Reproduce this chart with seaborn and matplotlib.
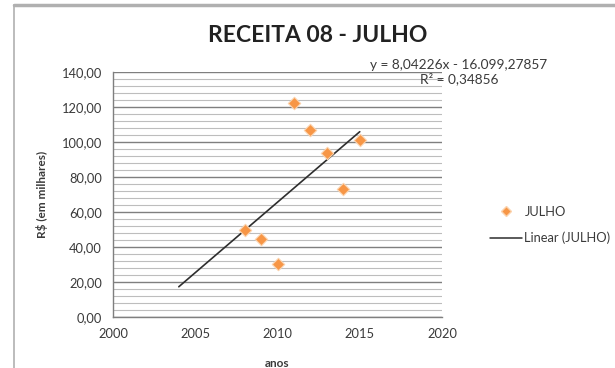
import numpy as np
import pandas as pd
import seaborn as sns
import matplotlib
matplotlib.use("Agg")
import matplotlib.pyplot as plt
from matplotlib.ticker import MultipleLocator, FuncFormatter, FixedLocator
from matplotlib.lines import Line2D

# ---- data ----
years = [2008, 2009, 2010, 2011, 2012, 2013, 2014, 2015]
values = [49.5, 44.5, 30.5, 122.5, 107.0, 93.5, 73.0, 101.0]
trend_years = [2004, 2015]
x_ticks = [2000, 2005, 2010, 2015, 2020]
y_ticks = [0, 20, 40, 60, 80, 100, 120, 140]
title = "RECEITA 08 - JULHO"
eq_text = "y = 8,04226x - 16.099,27857\nR² = 0,34856"
series_name = "JULHO"
trend_name = "Linear (JULHO)"
x_label = "anos"
y_label = "R$ (em milhares)"

sns.set_theme(style="white")
plt.rcParams['font.family'] = ['Lato', 'DejaVu Sans']

W, H = 615, 368
fig = plt.figure(figsize=(W / 100, H / 100), dpi=100)
ax = fig.add_axes([113 / W, 1 - 317 / H, (442 - 113) / W, (317 - 72) / H])

df = pd.DataFrame({"ano": years, "valor": values})
coef = np.polyfit(df["ano"], df["valor"], 1)
tdf = pd.DataFrame({"ano": trend_years, "valor": np.polyval(coef, trend_years)})

orange = "#F79646"
txt = "#3a3a3a"
sns.lineplot(data=tdf, x="ano", y="valor", ax=ax, color="#2e2e2e", lw=1.2, zorder=3)
sns.scatterplot(data=df, x="ano", y="valor", ax=ax, marker="D", s=40,
                color=orange, edgecolor="#fbd3ae", linewidth=0.8, zorder=4)

ax.set_xlim(2000, 2020)
ax.set_ylim(0, 140)
ax.xaxis.set_major_locator(FixedLocator(x_ticks))
ax.yaxis.set_major_locator(FixedLocator(y_ticks))
ax.yaxis.set_minor_locator(MultipleLocator(4))
ax.yaxis.set_major_formatter(FuncFormatter(lambda v, p: f"{v:.2f}".replace(".", ",")))
ax.grid(which="major", axis="y", color="#7f7f7f", lw=1.0)
ax.grid(which="minor", axis="y", color="#bdbdbd", lw=0.8)
ax.set_axisbelow(True)
for s in ["top", "right"]:
    ax.spines[s].set_visible(False)
for s in ["left", "bottom"]:
    ax.spines[s].set_color("#7f7f7f")
    ax.spines[s].set_linewidth(1.0)
ax.tick_params(axis="both", which="major", direction="out", length=4, width=0.8,
               color="#7f7f7f", labelsize=9.3, labelcolor=txt, pad=4)
ax.tick_params(axis="y", which="minor", length=0)
ax.set_xlabel(x_label, fontsize=8.5, fontweight="bold", color=txt, labelpad=13)
ax.set_ylabel(y_label, fontsize=8.5, fontweight="bold", color=txt, labelpad=10)

fig.text(318 / W, 1 - 36 / H, title, ha="center", va="center",
         fontsize=16.5, fontweight="bold", color="#222222")
fig.text(459 / W, 1 - 72 / H, eq_text, ha="center", va="center",
         fontsize=9.8, color=txt, linespacing=1.1)

handles = [
    Line2D([], [], marker="D", ls="none", color=orange, markeredgecolor="#fbd3ae",
           markersize=5.5),
    Line2D([], [], color="#2e2e2e", lw=1.1),
]
fig.legend(handles, [series_name, trend_name], loc="center left",
           bbox_to_anchor=(478 / W, 1 - 225 / H), frameon=False, fontsize=9.3,
           handlelength=2.5, handletextpad=0.2, labelspacing=1.1,
           labelcolor=txt)

# outer chart frame
fig.add_artist(Line2D([14 / W, 1], [1 - 5 / H, 1 - 5 / H], color="#b0b0b0", lw=2.5,
                      transform=fig.transFigure))
fig.add_artist(Line2D([14 / W, 14 / W], [0, 1 - 5 / H], color="#b0b0b0", lw=1.2,
                      transform=fig.transFigure))

fig.savefig("out.png", dpi=100)
